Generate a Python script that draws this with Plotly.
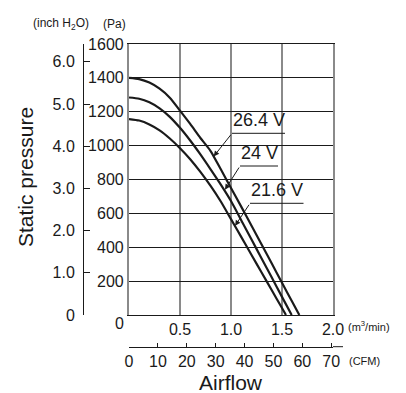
import plotly.graph_objects as go

# ---------------- data ----------------
airflow_m3 = [0, 0.1, 0.2, 0.3, 0.4, 0.5, 0.6, 0.7, 0.8, 0.9, 1.0, 1.1, 1.2, 1.3, 1.4, 1.5, 1.6]
p_264 = [1400, 1393, 1372, 1336, 1283, 1207, 1128, 1045, 968, 860, 750, 640, 528, 416, 304, 190, 78]
end_264 = (1.67, 0)
p_240 = [1284, 1277, 1256, 1220, 1170, 1105, 1030, 948, 860, 770, 673, 560, 447, 334, 221, 107]
end_240 = (1.595, 0)
p_216 = [1157, 1148, 1125, 1090, 1042, 985, 920, 845, 762, 670, 566, 461, 356, 251, 146, 41]
end_216 = (1.539, 0)

series_names = ["26.4 V", "24 V", "21.6 V"]

pa_ticks = [200, 400, 600, 800, 1000, 1200, 1400, 1600]
inch_ticks = [0, 1, 2, 3, 4, 5, 6]
inch_labels = ["0", "1.0", "2.0", "3.0", "4.0", "5.0", "6.0"]
m3_ticks = [0.5, 1.0, 1.5, 2.0]
m3_labels = ["0.5", "1.0", "1.5", "2.0"]
cfm_ticks = [0, 10, 20, 30, 40, 50, 60, 70]

PA_PER_INCH = 249.089
CFM_PER_M3 = 35.3147

arrow_tips = {"26.4 V": (0.83, 936), "24 V": (0.941, 740), "21.6 V": (1.04, 527)}

# ---------------- geometry helpers ----------------
W, H = 406, 393
ML, MR, MT, MB = 20, 73, 44, 20
PW, PH = W - ML - MR, H - MT - MB


def px(x):
    return (x - ML) / PW


def py(y):
    return (H - MB - y) / PH


X0, X1 = 129, 333
Y0, Y1 = 315, 44

NARROW = "Liberation Sans Narrow, Arial Narrow, Liberation Sans, sans-serif"
SANS = "Liberation Sans, Arial, Helvetica, sans-serif"
INK = "#1a1a1a"
TF = dict(family=NARROW, size=16, color=INK)

fig = go.Figure()
for name, ys, end in [("26.4 V", p_264, end_264), ("24 V", p_240, end_240), ("21.6 V", p_216, end_216)]:
    xs = airflow_m3[: len(ys)] + [end[0]]
    fig.add_trace(go.Scatter(x=xs, y=ys + [end[1]], mode="lines", name=name,
                             line=dict(color=INK, width=2.2, shape="spline", smoothing=0.6),
                             hoverinfo="skip", showlegend=False))

# invisible traces so the secondary axes get drawn
fig.add_trace(go.Scatter(x=[0], y=[0], xaxis="x2", yaxis="y", mode="markers",
                         marker=dict(opacity=0), hoverinfo="skip", showlegend=False))
fig.add_trace(go.Scatter(x=[0], y=[0], xaxis="x", yaxis="y2", mode="markers",
                         marker=dict(opacity=0), hoverinfo="skip", showlegend=False))

fig.update_layout(
    width=W, height=H,
    margin=dict(l=ML, r=MR, t=MT, b=MB, pad=0),
    paper_bgcolor="white", plot_bgcolor="white",
    xaxis=dict(domain=[px(X0), px(X1)], range=[0, 2.0], tickvals=m3_ticks, ticktext=m3_labels,
               showgrid=True, gridcolor="#8a8a8a", gridwidth=1.5, zeroline=False,
               showline=True, linecolor=INK, linewidth=1.2, mirror=True,
               ticks="", tickfont=TF),
    yaxis=dict(domain=[py(Y0), py(Y1)], range=[0, 1600], tickvals=pa_ticks,
               ticktext=[str(v) for v in pa_ticks],
               showgrid=True, gridcolor=INK, gridwidth=1, zeroline=False,
               showline=True, linecolor="#8a8a8a", linewidth=2.2, mirror=True,
               ticks="", tickfont=TF),
    yaxis2=dict(overlaying="y", anchor="free", position=px(83), side="left",
                range=[0, 1600 / PA_PER_INCH], tickvals=inch_ticks, ticktext=inch_labels,
                showgrid=False, zeroline=False, showline=True, linecolor=INK, linewidth=1,
                ticks="inside", ticklen=6, tickcolor=INK, tickwidth=1, tickfont=TF,
                ticklabelstandoff=5),
    xaxis2=dict(overlaying="x", anchor="free", position=py(346.7), side="bottom",
                range=[0, 2.0 * CFM_PER_M3], tickvals=cfm_ticks,
                showgrid=False, zeroline=False, showline=True, linecolor=INK, linewidth=1,
                ticks="inside", ticklen=4, tickcolor=INK, tickwidth=1, tickfont=TF),
)

ann = []
ann.append(dict(x=px(31), y=py(24), xref="paper", yref="paper", xanchor="left", yanchor="middle",
                text="(inch H<sub>2</sub>O)", showarrow=False, font=dict(family=SANS, size=12, color=INK)))
ann.append(dict(x=px(101), y=py(24), xref="paper", yref="paper", xanchor="left", yanchor="middle",
                text="(Pa)", showarrow=False, font=dict(family=SANS, size=12, color=INK)))
ann.append(dict(x=px(25), y=py(177), xref="paper", yref="paper", xanchor="center", yanchor="middle",
                text="Static pressure", textangle=-90, showarrow=False,
                font=dict(family=SANS, size=21, color=INK)))
ann.append(dict(x=px(119), y=py(323), xref="paper", yref="paper", xanchor="center", yanchor="middle",
                text="0", showarrow=False, font=TF))
ann.append(dict(x=px(346), y=py(326), xref="paper", yref="paper", xanchor="left", yanchor="middle",
                text="(m<sup>3</sup>/min)", showarrow=False, font=dict(family=SANS, size=11, color=INK)))
ann.append(dict(x=px(347), y=py(361), xref="paper", yref="paper", xanchor="left", yanchor="middle",
                text="(CFM)", showarrow=False, font=dict(family=SANS, size=11, color=INK)))
ann.append(dict(x=px(231), y=py(382), xref="paper", yref="paper", xanchor="center", yanchor="middle",
                text="Airflow", showarrow=False, font=dict(family=SANS, size=21, color=INK)))

label_pos = {"26.4 V": (232, 285, 133.3), "24 V": (240, 278, 166), "21.6 V": (250, 303.5, 203.3)}
shapes = [dict(type="line", xref="paper", yref="paper", x0=px(X1), x1=px(343),
               y0=py(346.7), y1=py(346.7), line=dict(color=INK, width=1))]
for name in series_names:
    xa, xb, yu = label_pos[name]
    ann.append(dict(x=px((xa + xb) / 2), y=py(yu - 1), xref="paper", yref="paper",
                    xanchor="center", yanchor="bottom", text=name, showarrow=False,
                    font=dict(family=SANS, size=18, color=INK)))
    shapes.append(dict(type="line", xref="paper", yref="paper", x0=px(xa), x1=px(xb), y0=py(yu), y1=py(yu),
                       line=dict(color=INK, width=1)))
    tx, tp = arrow_tips[name]
    tail_x = (xa - X0) / (X1 - X0) * 2.0
    tail_p = (Y0 - yu) / (Y0 - Y1) * 1600
    ann.append(dict(x=tx, y=tp, xref="x", yref="y", ax=tail_x, ay=tail_p, axref="x", ayref="y",
                    text="", showarrow=True, arrowhead=2, arrowsize=1.1, arrowwidth=1, arrowcolor=INK))

fig.update_layout(annotations=ann, shapes=shapes)
fig.write_html("out.html")
